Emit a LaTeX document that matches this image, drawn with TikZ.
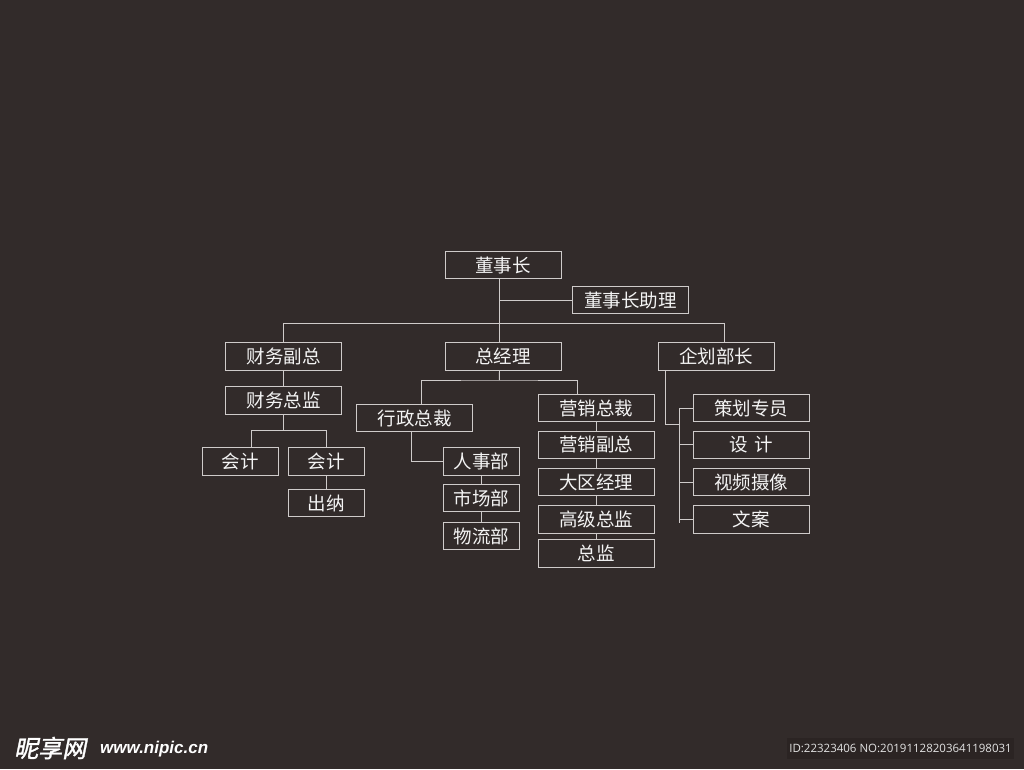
\documentclass[tikz,border=0pt]{standalone}
\usepackage{fontspec}
\newfontfamily\cjk{Noto Sans CJK SC}
\newfontfamily\cjkbold[FakeSlant=0.2,FakeBold=1.5]{Noto Sans CJK SC}
\newfontfamily\wmfont{Liberation Sans}
\newfontfamily\idfont{Open Sans}
\definecolor{bgc}{HTML}{322B2A}
\definecolor{linec}{HTML}{CFCBCA}
\definecolor{textc}{HTML}{F4F4F4}
\definecolor{idbg}{HTML}{2B2423}
\tikzset{
  orgbox/.style={draw=linec, line width=0.95pt, minimum width=116pt, minimum height=27.5pt, inner sep=0pt, text=textc, font=\cjk\fontsize{18.5}{19}\selectfont},
  smallbox/.style={orgbox, minimum width=76pt},
  conn/.style={draw=linec, line width=0.95pt}
}
\begin{document}
\begin{tikzpicture}[x=1pt,y=-1pt]
\fill[bgc] (0,0) rectangle (1024,769);
\useasboundingbox (0,0) rectangle (1024,769);
% nodes
\node[orgbox] (dsz) at (503,265) {董事长};
\node[orgbox] (zl) at (630.3,300) {董事长助理};
\node[orgbox] (zjl) at (503,356.5) {总经理};
\node[orgbox] (qh) at (716,356.5) {企划部长};
\node[orgbox] (cwfz) at (283.5,356.5) {财务副总};
\node[orgbox] (cwzj) at (283.5,400.5) {财务总监};
\node[smallbox] (kj1) at (240,461.7) {会计};
\node[smallbox] (kj2) at (326,461.7) {会计};
\node[smallbox] (cn) at (326,503) {出纳};
\node[orgbox] (xz) at (414.7,418) {行政总裁};
\node[smallbox] (rs) at (481.3,461.7) {人事部};
\node[smallbox] (sc) at (481.3,498.2) {市场部};
\node[smallbox] (wl) at (481.3,536.2) {物流部};
\node[orgbox] (yx1) at (596.3,408) {营销总裁};
\node[orgbox] (yx2) at (596.3,444.8) {营销副总};
\node[orgbox] (dq) at (596.3,482) {大区经理};
\node[orgbox] (gj) at (596.3,519.3) {高级总监};
\node[orgbox] (zj) at (596.3,553.7) {总监};
\node[orgbox] (ch) at (751.3,408) {策划专员};
\node[orgbox] (sj) at (751.3,444.8) {设\hspace{0.35em}计};
\node[orgbox] (sp) at (751.3,482) {视频摄像};
\node[orgbox] (wa) at (751.3,519.3) {文案};
% connectors
\coordinate (bus) at (499.3,323.3);
\coordinate (zbus) at (499.3,380);
\coordinate (cbus) at (283.5,430.7);
\coordinate (qv) at (679.3,424);
\coordinate (qend) at (679.3,523);
\draw[conn] ([xshift=-3.5pt]dsz.south) -- ([xshift=-3.5pt]zjl.north);
\draw[conn] ([xshift=-3.5pt]dsz.south |- zl.west) -- (zl.west);
\draw[conn] (cwfz.north) |- (bus) -| ([xshift=8pt]qh.north);
\draw[conn] (cwfz.south) -- (cwzj.north);
\draw[conn] ([xshift=-3.5pt]zjl.south) -- (zbus);
\draw[conn] ([xshift=6.3pt]xz.north) |- (zbus) -| ([xshift=-19pt]yx1.north);
\draw[conn] (cwzj.south) -- (cbus);
\draw[conn] ([xshift=11pt]kj1.north) |- (cbus) -| (kj2.north);
\draw[conn] (kj2.south) -- (cn.north);
\draw[conn] ([xshift=-3.7pt]xz.south) |- (rs.west);
\draw[conn] (rs.south) -- (sc.north);
\draw[conn] (sc.south) -- (wl.north);
\draw[conn] (yx1.south) -- (yx2.north);
\draw[conn] (yx2.south) -- (dq.north);
\draw[conn] (dq.south) -- (gj.north);
\draw[conn] (gj.south) -- (zj.north);
\draw[conn] ([xshift=-50.5pt]qh.south) |- (qv);
\draw[conn] (qv |- ch.west) -- (qend);
\draw[conn] (qv |- ch.west) -- (ch.west);
\draw[conn] (qv |- sj.west) -- (sj.west);
\draw[conn] (qv |- sp.west) -- (sp.west);
\draw[conn] (qv |- wa.west) -- (wa.west);
% watermark
\node[anchor=west, text=white, inner sep=0pt, font=\cjkbold\fontsize{24}{24}\selectfont] (wm1) at (14,748) {昵享网};
\node[anchor=west, text=white, inner sep=0pt, font=\wmfont\bfseries\itshape\fontsize{17}{17}\selectfont] (wm2) at (100,749) {www.nipic.cn};
\fill[idbg] (787,738) rectangle (1014,759);
\node[text=textc!85!gray, inner sep=0pt, font=\idfont\fontsize{11.5}{12}\selectfont] (idt) at (900.5,748.5) {ID:22323406 NO:20191128203641198031};
\end{tikzpicture}
\end{document}
